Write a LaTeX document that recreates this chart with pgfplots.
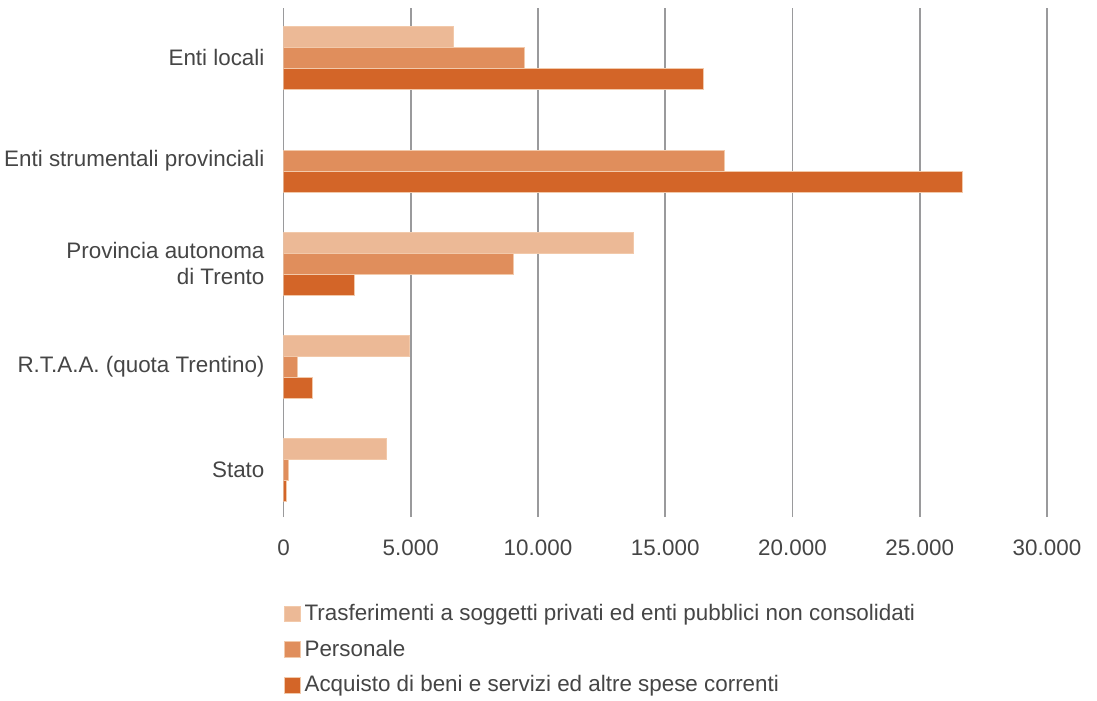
\documentclass[border=0pt]{standalone}
\usepackage{pgfplots}
\pgfplotsset{compat=1.18}
\usepackage{fontspec}
\setmainfont{Liberation Sans}
\definecolor{ctr}{HTML}{ECB996}
\definecolor{cpe}{HTML}{E08E5C}
\definecolor{cac}{HTML}{D36528}
\definecolor{cedge}{HTML}{F2C9AA}
\definecolor{ctext}{HTML}{454545}
\definecolor{cgrid}{HTML}{9A9A9C}
\begin{document}
\begin{tikzpicture}
\useasboundingbox (-141.75pt,-92pt) rectangle (406.75pt,258.5pt);
\begin{axis}[
  at={(0pt,0pt)}, anchor=south west,
  scale only axis,
  width=381.75pt, height=254.5pt,
  xmin=0, xmax=30000,
  ymin=-0.456, ymax=4.485,
  xtick={0,5000,10000,15000,20000,25000,30000},
  ytick={0,1,2,3,4},
  yticklabels={Stato, R.T.A.A. (quota Trentino), {Provincia autonoma\\di Trento}, Enti strumentali provinciali, Enti locali},
  scaled x ticks=false,
  /pgf/number format/.cd, 1000 sep={.}, assume math mode=true,
  /pgfplots/.cd,
  xmajorgrids,
  major grid style={cgrid, line width=0.9pt},
  axis line style={draw=none},
  major tick length=0pt,
  tick label style={font=\fontsize{11.2}{13}\selectfont, text=ctext},
  yticklabel style={align=right, xshift=-6pt},
  xticklabel style={yshift=-8pt},
  xbar,
  bar width=0.205,
  legend style={draw=none, at={(-0.0075,-0.155)}, anchor=north west,
    font=\fontsize{11.2}{13}\selectfont, text=ctext,
    row sep=4.2pt, legend cell align=left},
  legend image code/.code={\fill[#1] (0pt,-3.9pt) rectangle (7.8pt,3.9pt);},
]
\addplot[fill=ctr, draw=cedge, line width=0.4pt, bar shift=0.205]
  coordinates {(4030,0) (4930,1) (13730,2) (6660,4)};
\addlegendentry{Trasferimenti a soggetti privati ed enti pubblici non consolidati}
\addplot[fill=cpe, draw=cedge, line width=0.4pt, bar shift=0]
  coordinates {(180,0) (530,1) (9020,2) (17310,3) (9450,4)};
\addlegendentry{Personale}
\addplot[fill=cac, draw=cedge, line width=0.4pt, bar shift=-0.205]
  coordinates {(100,0) (1120,1) (2770,2) (26660,3) (16480,4)};
\addlegendentry{Acquisto di beni e servizi ed altre spese correnti}
\end{axis}
\end{tikzpicture}
\end{document}
